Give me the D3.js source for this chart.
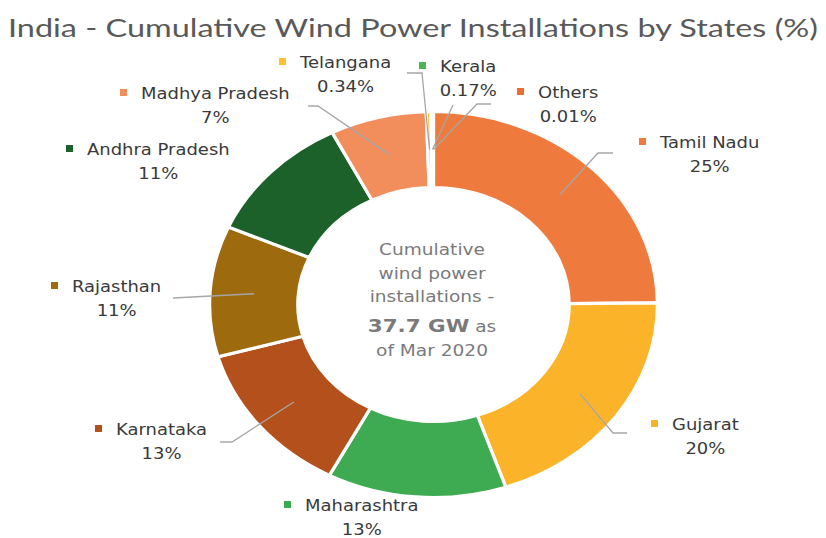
<!DOCTYPE html>
<html>
<head>
<meta charset="utf-8">
<script src="https://cdn.jsdelivr.net/npm/d3@7"></script>
<style>
  body { margin: 0; background: #fff; }
  svg { display: block; }
</style>
</head>
<body>
<svg id="chart"></svg>
<script>
// data
const states = ["Tamil Nadu", "Gujarat", "Maharashtra", "Karnataka", "Rajasthan",
                "Andhra Pradesh", "Madhya Pradesh", "Telangana", "Kerala", "Others"];
const shares = [25, 20, 13, 13, 11, 11, 7, 0.34, 0.17, 0.01];
const colors = ["#ee7b3d", "#fbb42a", "#3eaa52", "#b4501b", "#9d6b0e",
                "#1c6129", "#f18e5c", "#fdc02f", "#4db45a", "#ee6d2e"];
const centreLines = ["Cumulative", "wind power", "installations -"];
const centreBold = "37.7 GW";
const centreTail = [" as", "of Mar 2020"];

// label layout: [text x, baseline y], leader elbow, leader end (null = no leader)
const labelPos = [[660, 148], [672, 430], [305, 511], [116, 435], [72, 292],
                  [87, 155], [141, 99], [300, 68], [440, 72], [538, 98]];
const leaderElbow = [[598, 153], [613, 433], null, [232, 442], [173, 298],
                     null, [318, 106], [422, 73], [453, 105], [477, 104]];
const leaderEnd = [[613, 153], [627, 433], null, [220, 442], [173, 298],
                   null, [308, 106], [407, 73], [453, 105], [491, 104]];

const W = 826, H = 538;
const sx = 1.16;           // picture is stretched horizontally
const cx = 433.5, cy = 304.5;
const rOuter = 193, rInner = 117;

const svg = d3.select("#chart").attr("width", W).attr("height", H);

svg.append("text")
    .attr("transform", `translate(8,37) scale(${sx},1)`)
    .attr("textLength", 810 / sx)
    .attr("lengthAdjust", "spacingAndGlyphs")
    .style("font-family", "Lato, 'Open Sans', sans-serif")
    .style("font-size", "24.5px")
    .attr("fill", "#595959")
    .text("India - Cumulative Wind Power Installations by States (%)");

const pie = d3.pie().sort(null).value(d => d)(shares);
const arc = d3.arc().innerRadius(rInner).outerRadius(rOuter);

const donut = svg.append("g")
    .attr("transform", `translate(${cx},${cy}) scale(${sx},1)`);

donut.selectAll("path.slice")
    .data(pie)
    .enter()
    .append("path")
    .attr("class", "slice")
    .attr("d", arc)
    .attr("fill", (d, i) => colors[i])
    .attr("stroke", "#fff")
    .attr("stroke-width", 3.2)
    .attr("vector-effect", "non-scaling-stroke");

// leader lines from slice centroids
const toPage = p => [cx + p[0] * sx, cy + p[1]];
pie.forEach((d, i) => {
    if (!leaderElbow[i]) return;
    const c = toPage(arc.centroid(d));
    const pts = [c, leaderElbow[i], leaderEnd[i]];
    svg.append("path")
        .attr("d", d3.line()(pts))
        .attr("fill", "none")
        .attr("stroke", "#a6a6a6")
        .attr("stroke-width", 1.3);
});

// data labels
const labelFont = "'DejaVu Sans', Verdana, sans-serif";
const labels = svg.selectAll("g.lbl")
    .data(states)
    .enter()
    .append("g")
    .attr("class", "lbl");

labels.each(function(name, i) {
    const g = d3.select(this);
    const [x, y] = labelPos[i];
    const t = g.append("text")
        .attr("transform", `translate(${x},${y}) scale(${sx},1)`)
        .style("font-family", labelFont)
        .style("font-size", "15.5px")
        .attr("fill", "#3a3a3a")
        .text(name);
    const w = t.node().getComputedTextLength() * sx;
    g.append("rect")
        .attr("x", x - 21)
        .attr("y", y - 10)
        .attr("width", 7)
        .attr("height", 7)
        .attr("fill", colors[i]);
    g.append("text")
        .attr("transform", `translate(${x + w / 2},${y + 24}) scale(${sx},1)`)
        .attr("text-anchor", "middle")
        .style("font-family", labelFont)
        .style("font-size", "15.5px")
        .attr("fill", "#3a3a3a")
        .text(shares[i] + "%");
});

// centre text
const centre = svg.append("g")
    .style("font-family", labelFont)
    .attr("fill", "#7a7a7a");
centreLines.forEach((s, i) => {
    centre.append("text")
        .attr("transform", `translate(432,${255 + i * 23.5}) scale(${sx},1)`)
        .attr("text-anchor", "middle")
        .style("font-size", "16px")
        .text(s);
});
const bl = centre.append("text")
    .attr("transform", `translate(432,332) scale(${sx},1)`)
    .attr("text-anchor", "middle")
    .style("font-size", "16px");
bl.append("tspan").style("font-weight", "bold").style("font-size", "18.5px").text(centreBold);
bl.append("tspan").text(centreTail[0]);
centre.append("text")
    .attr("transform", `translate(432,356) scale(${sx},1)`)
    .attr("text-anchor", "middle")
    .style("font-size", "16px")
    .text(centreTail[1]);
</script>
</body>
</html>
